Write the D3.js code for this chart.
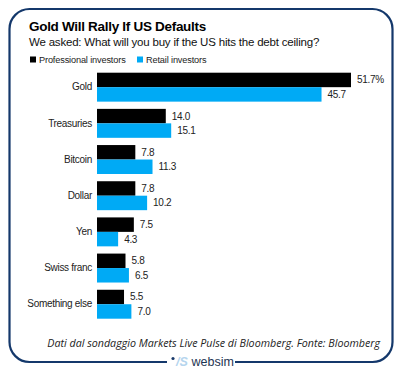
<!DOCTYPE html>
<html><head><meta charset="utf-8">
<script src="https://cdn.jsdelivr.net/npm/d3@7"></script>
<style>
html,body{margin:0;padding:0;background:#fff;}
svg{display:block;}
text{font-family:"Liberation Sans",Arial,sans-serif;}
</style></head>
<body>
<svg id="c" width="402" height="370"></svg>
<script>
const categories = ["Gold","Treasuries","Bitcoin","Dollar","Yen","Swiss franc","Something else"];
const professional = [51.7,14.0,7.8,7.8,7.5,5.8,5.5];
const retail = [45.7,15.1,11.3,10.2,4.3,6.5,7.0];
const seriesNames = ["Professional investors","Retail investors"];
const colors = ["#000000","#00aaf5"];

const svg = d3.select("#c");
const navy = "#14386b";

// frame with gap at bottom for logo
const L=9.5,T=9,R=392.5,B=362,r=20;
const gapL=167,gapR=235;
const p = d3.path();
p.moveTo(gapL,B);
p.lineTo(L+r,B);
p.arcTo(L,B,L,B-r,r);
p.lineTo(L,T+r);
p.arcTo(L,T,L+r,T,r);
p.lineTo(R-r,T);
p.arcTo(R,T,R,T+r,r);
p.lineTo(R,B-r);
p.arcTo(R,B,R-r,B,r);
p.lineTo(gapR,B);
svg.append("path").attr("d",p.toString()).attr("fill","none").attr("stroke",navy).attr("stroke-width",2.2);

// logo
svg.append("circle").attr("cx",173).attr("cy",358.5).attr("r",1.6).attr("fill","#1a3a6b");
svg.append("text").attr("x",176).attr("y",366).attr("font-size",12.5).attr("font-style","italic").attr("font-weight","bold")
  .attr("fill","#b5d5ee").text("/S");
svg.append("text").attr("x",191.5).attr("y",366).attr("font-size",12.5).attr("fill","#1e3553").text("websim");

// titles
svg.append("text").attr("x",29).attr("y",31).attr("font-size",13.5).attr("font-weight","bold").attr("fill","#000")
  .attr("letter-spacing",-0.3).text("Gold Will Rally If US Defaults");
svg.append("text").attr("x",29).attr("y",45.5).attr("font-size",11.5).attr("fill","#111")
  .attr("letter-spacing",-0.2).text("We asked: What will you buy if the US hits the debt ceiling?");

// legend
const leg = svg.append("g");
const legX=[30,137];
seriesNames.forEach((n,i)=>{
  leg.append("rect").attr("x",legX[i]).attr("y",56.5).attr("width",6).attr("height",6).attr("fill",colors[i]);
  leg.append("text").attr("x",legX[i]+9).attr("y",62.5).attr("font-size",9.2).attr("fill","#222")
    .attr("letter-spacing",-0.15).text(n);
});

// scales
const x = d3.scaleLinear().domain([0,51.7]).range([97,351]);
const y = d3.scaleBand().domain(categories).range([72.7,318.7]).paddingInner(0.2).paddingOuter(0);
const sub = d3.scaleBand().domain([0,1]).range([0,y.bandwidth()]);

const data = categories.map((c,i)=>({c,vals:[professional[i],retail[i]]}));
const g = svg.append("g");
const groups = g.selectAll("g.grp").data(data).join("g").attr("class","grp")
  .attr("transform",d=>`translate(0,${y(d.c)})`);

groups.selectAll("rect").data(d=>d.vals.map((v,k)=>({v,k}))).join("rect")
  .attr("x",x(0)).attr("y",d=>sub(d.k)).attr("width",d=>x(d.v)-x(0)).attr("height",sub.bandwidth())
  .attr("fill",d=>colors[d.k]);

groups.selectAll("text.val").data((d,i)=>d.vals.map((v,k)=>({v,k,first:i===0&&k===0}))).join("text").attr("class","val")
  .attr("x",d=>x(d.v)+6).attr("y",d=>sub(d.k)+sub.bandwidth()/2+3.5)
  .attr("font-size",10).attr("fill","#222").attr("letter-spacing",-0.3)
  .text(d=>d3.format(".1f")(d.v)+(d.first?"%":""));

// y axis labels
const yAxis = d3.axisLeft(y).tickSize(0).tickPadding(5);
const ax = svg.append("g").attr("transform",`translate(${x(0)},0)`).call(yAxis);
ax.select(".domain").remove();
ax.selectAll("text").attr("font-size",10).attr("fill","#222").attr("letter-spacing",-0.3)
  .attr("font-family","'Liberation Sans',Arial,sans-serif");

// footer
svg.append("text").attr("x",380).attr("y",347).attr("text-anchor","end").attr("font-size",10.7)
  .attr("font-style","italic").attr("fill","#222").style("font-family","'Open Sans',sans-serif")
  .text("Dati dal sondaggio Markets Live Pulse di Bloomberg. Fonte: Bloomberg");
</script>
</body></html>
